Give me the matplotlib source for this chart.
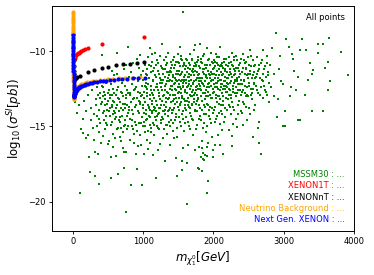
import matplotlib
matplotlib.use('Agg')
import matplotlib.pyplot as plt

# MSSM30 scan points (neutralino mass [GeV], log10 sigma_SI [pb])
mssm_points = [
    (35, -13.4), (60, -14.1), (80, -13.6), (100, -19.4), (120, -15.2), (140, -14.5), (147, -15.45), (160, -13.3), (180, -15.8), (190, -14.0),
    (210, -12.9), (218, -15.56), (228, -17.06), (242, -18.03), (250, -13.8), (260, -14.6), (275, -12.6), (290, -15.1), (299, -15.93), (313, -18.32),
    (318, -16.73), (325, -13.2), (335, -14.3), (345, -12.4), (360, -16.86), (365, -13.9), (370, -18.8), (375, -15.4), (380, -12.8), (388, -14.8),
    (395, -13.5), (398, -16.1),
    (408, -10.26), (412, -12.3), (420, -14.1), (425, -13.0), (432, -15.63), (440, -12.7), (448, -14.6), (455, -13.6), (462, -15.2), (470, -12.1),
    (478, -13.9), (485, -14.9), (490, -11.9), (498, -13.3), (505, -16.2), (512, -12.6), (517, -15.94), (525, -14.3), (530, -13.1), (536, -17.0),
    (540, -12.2), (545, -18.43), (552, -14.7), (560, -13.7), (565, -15.5), (570, -12.5), (578, -14.0), (585, -11.6), (590, -13.4), (598, -15.78),
    (575, -16.4), (555, -11.3),
    (607, -16.95), (610, -12.9), (615, -14.4), (622, -10.15), (628, -13.6), (633, -11.5), (636, -18.15), (640, -15.1), (645, -12.4), (650, -14.0),
    (655, -13.2), (662, -15.7), (668, -11.9), (672, -14.7), (678, -12.7), (685, -13.8), (690, -16.0), (695, -12.1), (700, -14.3), (705, -13.0),
    (710, -15.4), (716, -16.44), (720, -11.2), (726, -17.77), (731, -16.7), (735, -13.5), (740, -12.3), (745, -14.9), (750, -10.9), (754, -20.71),
    (755, -16.67), (760, -13.1), (768, -15.2), (775, -12.6), (780, -14.1), (788, -9.75), (792, -13.7), (798, -11.7),
    (805, -15.9), (810, -12.9), (815, -14.5), (820, -11.4), (826, -13.4), (830, -18.9), (835, -12.2), (840, -15.0), (846, -13.9), (852, -10.8),
    (858, -14.2), (862, -12.6), (868, -16.1), (872, -13.1), (878, -11.8), (885, -14.7), (892, -16.84), (896, -12.4), (900, -13.6), (905, -10.5),
    (910, -15.3), (915, -17.83), (920, -12.0), (925, -14.0), (930, -16.33), (935, -13.3), (940, -11.1), (945, -14.8), (950, -12.8), (954, -10.26),
    (958, -15.6), (962, -13.0), (968, -16.23), (972, -11.6), (978, -18.87), (982, -14.4), (986, -12.3), (990, -13.8), (994, -15.0), (998, -11.3),
    (875, -15.5), (948, -13.5),
    (1005, -12.7), (1011, -16.82), (1015, -14.1), (1020, -10.9), (1025, -13.4), (1030, -15.4), (1035, -12.1), (1040, -14.6), (1045, -11.5), (1050, -13.0),
    (1055, -15.9), (1060, -12.5), (1065, -10.4), (1072, -16.51), (1076, -13.7), (1080, -11.8), (1085, -14.3), (1090, -12.9), (1096, -9.82), (1096, -16.07),
    (1100, -13.2), (1105, -11.0), (1110, -15.1), (1115, -12.3), (1120, -14.0), (1125, -10.7), (1130, -13.5), (1134, -16.93), (1138, -12.0), (1142, -14.8),
    (1146, -11.3), (1150, -13.1), (1155, -15.6), (1160, -12.6), (1165, -10.1), (1170, -14.4), (1177, -18.4), (1180, -11.7), (1185, -13.3), (1190, -12.2),
    (1195, -15.0), (1198, -10.6), (1058, -11.2), (1102, -14.9), (1128, -12.8), (1152, -11.1), (1172, -13.8), (1188, -14.6), (1043, -12.4), (1118, -10.2),
    (1203, -12.4), (1208, -14.2), (1212, -10.8), (1215, -16.56), (1220, -13.0), (1225, -11.5), (1230, -15.2), (1235, -12.1), (1240, -13.8), (1245, -10.3),
    (1250, -14.6), (1255, -11.9), (1262, -9.49), (1265, -13.3), (1270, -12.6), (1275, -15.8), (1280, -11.2), (1285, -14.0), (1290, -12.9), (1295, -10.6),
    (1300, -13.6), (1305, -11.7), (1310, -17.28), (1315, -12.3), (1320, -14.9), (1325, -10.9), (1330, -13.1), (1335, -11.4), (1340, -15.5), (1345, -12.7),
    (1350, -14.3), (1355, -10.1), (1360, -12.0), (1365, -13.9), (1370, -11.6), (1375, -15.0), (1381, -16.23), (1385, -12.5), (1390, -10.7), (1395, -13.4),
    (1398, -11.1), (1228, -12.8), (1248, -11.0), (1268, -14.4), (1288, -11.5), (1308, -13.9), (1328, -12.2), (1348, -11.8), (1368, -14.7), (1388, -12.9),
    (1238, -16.2), (1318, -10.4), (1358, -13.2), (1378, -11.3), (1272, -12.1),
    (1403, -12.6), (1408, -14.1), (1412, -10.9), (1418, -13.3), (1422, -11.6), (1428, -15.3), (1432, -12.2), (1438, -10.4), (1442, -13.8), (1448, -11.8),
    (1452, -14.6), (1458, -12.9), (1462, -10.7), (1466, -17.1), (1470, -13.1), (1475, -11.3), (1480, -15.7), (1485, -18.32), (1490, -12.4), (1495, -10.2),
    (1500, -13.7), (1505, -11.9), (1510, -14.4), (1515, -12.7), (1520, -11.0), (1523, -9.72), (1528, -13.5), (1532, -12.0), (1538, -15.0), (1542, -11.5),
    (1547, -17.33), (1547, -17.88), (1550, -13.0), (1555, -10.6), (1560, -12.3), (1566, -7.4), (1570, -16.44), (1572, -14.0), (1576, -11.7), (1580, -13.2),
    (1585, -10.9), (1590, -12.6), (1595, -14.8), (1598, -11.2), (1415, -12.0), (1435, -11.1), (1455, -12.5), (1472, -14.2), (1492, -11.5), (1512, -13.1),
    (1535, -12.8), (1552, -11.4), (1568, -12.1), (1588, -13.6), (1445, -15.8), (1505, -10.8), (1525, -12.4), (1562, -14.5), (1582, -11.9), (1425, -13.9),
    (1465, -11.9), (1545, -10.3),
    (1603, -12.1), (1608, -13.9), (1612, -10.5), (1618, -17.44), (1618, -20.13), (1622, -12.8), (1628, -11.4), (1632, -14.7), (1638, -12.3), (1641, -16.23),
    (1645, -10.8), (1650, -13.4), (1655, -11.7), (1660, -15.2), (1665, -12.5), (1670, -10.2), (1675, -13.0), (1680, -11.9), (1685, -14.3), (1690, -12.7),
    (1695, -10.6), (1700, -13.6), (1705, -11.2), (1710, -15.6), (1715, -12.2), (1720, -9.9), (1725, -13.2), (1730, -11.6), (1737, -16.56), (1737, -9.6),
    (1740, -14.0), (1745, -12.4), (1750, -10.9), (1755, -13.5), (1760, -11.4), (1765, -14.9), (1770, -12.9), (1775, -10.4), (1780, -13.1), (1784, -17.79),
    (1788, -11.8), (1792, -14.5), (1796, -12.0), (1798, -16.34), (1794, -17.81), (1615, -11.9), (1635, -11.1), (1652, -12.0), (1668, -13.8), (1688, -11.3),
    (1702, -12.6), (1722, -11.0), (1742, -12.8), (1762, -13.3), (1778, -11.6), (1625, -13.3), (1658, -11.5), (1698, -14.5), (1718, -12.9), (1748, -11.9),
    (1768, -10.7), (1786, -12.5),
    (1803, -12.3), (1808, -9.49), (1810, -13.8), (1815, -11.1), (1820, -14.6), (1822, -17.0), (1825, -12.6), (1830, -10.7), (1832, -17.99), (1832, -16.44),
    (1832, -16.0), (1835, -13.3), (1840, -11.8), (1846, -15.1), (1850, -12.2), (1855, -16.78), (1855, -17.17), (1858, -10.3), (1862, -13.6), (1865, -17.22),
    (1868, -11.5), (1872, -14.2), (1878, -12.8), (1879, -16.89), (1882, -10.9), (1888, -13.0), (1892, -11.7), (1898, -15.4), (1903, -15.0), (1903, -16.95),
    (1906, -12.4), (1910, -9.8), (1912, -16.34), (1912, -19.43), (1915, -13.5), (1920, -11.3), (1926, -18.66), (1926, -16.12), (1930, -12.1), (1935, -14.3),
    (1940, -10.5), (1945, -12.9), (1950, -11.6), (1955, -13.7), (1960, -12.0), (1965, -10.1), (1970, -14.8), (1974, -15.72), (1978, -11.9), (1985, -13.1),
    (1990, -12.5), (1997, -16.56), (1997, -17.04), (1998, -10.8), (1818, -12.0), (1845, -11.2), (1870, -12.3), (1895, -11.1), (1918, -12.7), (1942, -13.9),
    (1962, -11.4), (1988, -11.2),
    (2005, -12.2), (2010, -13.9), (2015, -10.6), (2021, -16.23), (2021, -14.68), (2025, -11.8), (2030, -12.9), (2035, -14.5), (2040, -10.2), (2045, -12.4),
    (2050, -11.3), (2055, -13.4), (2060, -12.0), (2068, -15.56), (2070, -10.9), (2075, -13.0), (2080, -11.6), (2085, -14.1), (2090, -12.6), (2093, -16.23),
    (2093, -14.83), (2098, -9.7), (2102, -11.4), (2108, -13.6), (2112, -12.2), (2117, -15.23), (2120, -10.8), (2125, -12.8), (2131, -16.82), (2135, -11.1),
    (2140, -13.3), (2145, -12.0), (2150, -14.7), (2155, -10.5), (2160, -12.5), (2165, -11.7), (2170, -13.8), (2175, -12.3), (2180, -10.9), (2185, -13.1),
    (2190, -11.4), (2195, -12.7), (2012, -11.1), (2038, -12.1), (2062, -13.0), (2088, -11.0), (2115, -11.9), (2138, -12.5), (2162, -11.2), (2188, -12.1),
    (2052, -10.4), (2128, -14.2),
    (2205, -11.8), (2210, -13.2), (2215, -10.4), (2220, -12.5), (2225, -15.23), (2230, -11.2), (2235, -13.7), (2240, -12.1), (2245, -10.7), (2250, -12.9),
    (2255, -11.5), (2259, -15.63), (2259, -16.29), (2262, -13.4), (2268, -10.1), (2272, -12.3), (2278, -11.0), (2282, -14.83), (2285, -12.7), (2290, -11.6),
    (2295, -13.9), (2300, -10.6), (2305, -12.0), (2310, -11.3), (2315, -13.0), (2320, -12.4), (2325, -10.3), (2330, -15.01), (2335, -11.8), (2340, -12.8),
    (2345, -11.1), (2350, -14.2), (2355, -12.2), (2360, -10.9), (2370, -13.3), (2378, -11.5), (2385, -12.6), (2392, -10.5), (2398, -14.0), (2228, -12.9),
    (2302, -11.9), (2365, -11.7),
    (2405, -11.4), (2410, -12.7), (2418, -10.2), (2425, -14.9), (2430, -11.9), (2438, -13.5), (2445, -10.8), (2450, -12.3), (2458, -11.1), (2465, -13.0),
    (2472, -14.6), (2478, -11.6), (2485, -12.9), (2492, -10.4), (2500, -12.1), (2508, -13.8), (2515, -11.3), (2522, -9.9), (2530, -12.5), (2538, -11.0),
    (2545, -13.2), (2552, -11.8), (2560, -10.6), (2567, -15.67), (2572, -12.2), (2580, -11.4), (2588, -13.6), (2595, -10.9), (2440, -12.0), (2498, -11.5),
    (2548, -12.8), (2418, -13.4),
    (2605, -11.7), (2615, -12.6), (2625, -10.4), (2638, -15.12), (2645, -11.2), (2652, -16.07), (2652, -14.68), (2660, -12.9), (2672, -16.82), (2680, -10.8),
    (2690, -11.9), (2700, -13.1), (2712, -9.9), (2722, -12.3), (2735, -11.0), (2748, -12.7), (2760, -10.3), (2772, -11.6), (2785, -13.4), (2795, -12.1),
    (2630, -11.3), (2710, -11.5),
    (2810, -10.9), (2825, -12.4), (2840, -9.8), (2858, -11.5), (2870, -13.0), (2890, -8.8), (2900, -14.4), (2920, -13.2), (2935, -11.2), (2950, -10.3),
    (2965, -12.0), (2990, -12.2), (2990, -15.0), (2994, -14.97),
    (3018, -14.97), (3020, -14.0), (3032, -9.2), (3070, -9.7), (3090, -13.0), (3110, -12.4), (3120, -10.2), (3130, -10.5), (3180, -12.6), (3150, -11.3),
    (3207, -14.6), (3210, -11.7), (3230, -9.95), (3230, -14.6), (3255, -9.2), (3325, -9.93), (3375, -10.8), (3300, -12.9), (3350, -11.9),
    (3400, -11.5), (3410, -13.95), (3420, -11.25), (3490, -9.5), (3490, -10.15), (3555, -13.95), (3560, -9.5), (3590, -11.15),
    (3635, -10.7), (3650, -9.1), (3660, -11.95), (3630, -12.6), (3815, -10.05), (3920, -11.6),
    # denser core of the cloud
    (803, -13.9), (817, -12.8), (833, -14.6), (849, -13.2), (861, -15.2), (877, -12.5), (889, -13.7), (903, -14.9), (917, -13.1), (929, -12.7),
    (943, -14.1), (957, -13.4), (971, -14.8), (983, -12.9), (997, -13.6),
    (305, -14.2), (322, -13.6), (341, -15.0), (356, -12.9), (372, -14.5), (391, -13.1), (417, -13.4), (436, -14.0), (451, -12.9), (467, -14.8),
    (483, -13.5), (501, -12.8), (521, -13.8), (538, -14.9), (557, -12.9), (573, -13.3), (592, -14.5), (613, -13.8), (631, -12.6), (648, -14.6),
    (667, -13.4), (683, -15.1), (702, -12.8), (718, -13.9), (737, -14.6), (752, -12.9), (771, -13.6), (786, -15.0),
    (1003, -11.9), (1013, -13.1), (1023, -12.3), (1033, -14.2), (1047, -12.8), (1053, -11.6), (1063, -13.6), (1074, -12.2), (1083, -10.9), (1093, -13.9),
    (1107, -12.6), (1113, -11.4), (1123, -13.3), (1133, -11.9), (1143, -12.9), (1157, -13.9), (1163, -11.6), (1175, -12.4), (1183, -10.9), (1193, -13.6),
    (1205, -11.3), (1217, -12.6), (1223, -14.1), (1233, -11.8), (1243, -13.2), (1253, -12.4), (1263, -11.1), (1277, -13.0), (1283, -11.9), (1293, -14.0),
    (1303, -12.6), (1313, -11.2), (1323, -13.4), (1333, -12.0), (1343, -10.8), (1353, -12.8), (1363, -11.4), (1373, -13.1), (1383, -11.9), (1393, -12.3),
    (1401, -11.4), (1409, -12.3), (1417, -10.6), (1423, -12.9), (1431, -11.7), (1439, -13.2), (1447, -12.1), (1453, -10.9), (1461, -12.6), (1469, -11.5),
    (1477, -13.4), (1483, -12.0), (1491, -10.7), (1497, -12.8), (1503, -11.3), (1511, -12.2), (1517, -13.6), (1527, -11.6), (1533, -10.5), (1541, -12.5),
    (1549, -11.9), (1557, -13.1), (1563, -11.0), (1571, -12.4), (1579, -10.8), (1587, -12.0), (1593, -13.3), (1599, -11.6),
    (1601, -12.7), (1609, -11.0), (1617, -12.4), (1623, -10.6), (1631, -13.1), (1639, -11.7), (1647, -12.2), (1653, -13.7), (1661, -11.2), (1667, -12.9),
    (1673, -10.9), (1679, -12.3), (1687, -11.6), (1693, -13.0), (1699, -10.5), (1707, -12.1), (1713, -11.4), (1719, -13.4), (1727, -12.0), (1733, -10.8),
    (1741, -11.3), (1749, -12.6), (1757, -11.0), (1763, -12.3), (1771, -11.8), (1777, -13.2), (1783, -10.6), (1791, -12.2), (1797, -11.5),
    (1801, -11.0), (1809, -12.5), (1817, -10.5), (1823, -11.8), (1829, -13.0), (1837, -12.1), (1843, -10.8), (1851, -11.4), (1857, -12.8), (1863, -11.2),
    (1871, -10.2), (1877, -12.0), (1883, -13.2), (1891, -11.6), (1897, -12.6), (1904, -10.9), (1911, -11.8), (1917, -13.0), (1923, -12.2), (1929, -10.6),
    (1937, -11.5), (1943, -12.4), (1949, -10.9), (1957, -11.8), (1963, -13.1), (1969, -12.3), (1977, -10.7), (1983, -11.5), (1991, -12.8), (1999, -11.9),
    (2003, -11.5), (2009, -12.7), (2017, -11.0), (2023, -12.4), (2029, -10.7), (2037, -11.6), (2043, -13.1), (2049, -12.1), (2057, -10.8), (2063, -11.8),
    (2071, -12.5), (2077, -11.2), (2083, -10.4), (2091, -11.9), (2097, -13.2), (2103, -12.4), (2109, -10.9), (2117, -11.6), (2123, -12.2), (2129, -11.0),
    (2137, -13.0), (2143, -11.5), (2149, -12.3), (2157, -10.7), (2163, -12.0), (2169, -11.3), (2177, -12.7), (2183, -10.5), (2189, -11.8), (2197, -12.4),
    (2203, -11.0), (2211, -12.2), (2219, -11.6), (2227, -10.8), (2233, -12.6), (2241, -11.4), (2249, -13.1), (2257, -12.0), (2263, -10.9), (2271, -11.7),
    (2279, -12.5), (2287, -11.2), (2293, -10.4), (2299, -12.1), (2307, -11.5), (2313, -12.8), (2321, -11.1), (2329, -12.0), (2337, -10.6), (2343, -11.9),
    (2353, -12.6), (2363, -11.3), (2373, -12.2), (2381, -10.8), (2389, -11.9), (2397, -12.9),
    (2407, -12.2), (2415, -11.1), (2423, -12.6), (2433, -10.6), (2443, -11.5), (2453, -12.8), (2461, -11.2), (2469, -10.7), (2481, -12.4), (2489, -11.8),
    (2497, -13.0), (2505, -10.9), (2513, -12.3), (2525, -11.5), (2533, -12.9), (2541, -10.3), (2557, -11.6), (2565, -12.5), (2577, -11.0), (2585, -12.1),
    (2597, -11.8),
    (2607, -12.3), (2621, -11.5), (2635, -12.8), (2649, -10.9), (2663, -11.8), (2677, -12.4), (2693, -10.6), (2707, -12.0), (2719, -11.2), (2733, -12.6),
    (2745, -11.7), (2757, -12.9), (2769, -10.8), (2781, -11.4),
    # lower half of the core
    (1008, -14.7), (1027, -15.0), (1038, -13.9), (1057, -14.5), (1068, -15.3), (1087, -13.8), (1098, -14.4), (1117, -15.4), (1127, -14.1), (1147, -13.7),
    (1158, -14.9), (1178, -14.0), (1197, -14.3), (1209, -15.1), (1227, -13.8), (1246, -14.8), (1258, -13.6), (1278, -14.5), (1297, -15.2), (1307, -14.2),
    (1327, -13.7), (1338, -14.9), (1357, -14.0), (1377, -13.8), (1397, -14.6), (1411, -13.9), (1429, -14.8), (1449, -13.5), (1467, -14.4), (1487, -15.1),
    (1507, -13.9), (1521, -14.7), (1539, -13.4), (1559, -14.2), (1577, -15.3), (1597, -13.8), (1613, -14.4), (1633, -13.6), (1649, -15.0), (1671, -14.1),
    (1691, -13.5), (1711, -14.6), (1731, -13.9), (1753, -15.2), (1773, -14.0), (1793, -13.6), (1813, -14.3), (1839, -13.9), (1859, -14.8), (1881, -13.7),
    (1901, -14.2), (1927, -13.6), (1951, -14.5), (1973, -13.8), (1993, -14.1), (2019, -13.7), (2047, -14.3), (2073, -13.5), (2101, -14.0), (2133, -13.6),
    (2159, -14.4), (2187, -13.9), (2217, -13.6), (2247, -14.2), (2283, -13.7), (2317, -14.5), (2357, -13.6), (2411, -14.1), (2463, -13.7), (2519, -14.2),
    (2583, -13.9),
    (433, -12.4), (458, -13.2), (476, -14.3), (507, -14.0), (528, -12.9), (548, -13.6), (568, -14.2), (587, -12.8), (603, -14.1), (626, -15.2),
    (643, -13.1), (663, -14.4), (688, -12.7), (708, -13.5), (727, -15.0), (747, -13.8), (767, -14.3), (783, -12.8),
]
mssm_mass = [p[0] for p in mssm_points]
mssm_sigma = [p[1] for p in mssm_points]

xenon1t_mass = [20, 25, 30, 38, 50, 67, 85, 100, 120, 138, 171, 218, 408, 1011]
xenon1t_sigma = [-10.5, -10.42, -10.35, -10.26, -10.2, -10.15, -10.09, -10.05, -9.99, -9.93, -9.85, -9.78, -9.49, -9.09]

xenonnt_mass = [5, 5.5, 6, 6.5, 7, 8, 9, 10, 12, 15, 20, 30, 45, 61, 100, 209, 303, 408, 503, 612, 707, 811, 906, 1011]
xenonnt_sigma = [-8.85, -9.3, -9.8, -10.2, -10.6, -11.0, -11.3, -11.5, -11.7, -11.85, -11.9, -11.85, -11.8, -11.74,
                 -11.66, -11.39, -11.24, -11.15, -11.04, -10.95, -10.86, -10.82, -10.77, -10.73]

nu_mass = [3, 3.1, 3.2, 3.3, 3.4, 3.5, 3.6, 3.7, 3.8, 3.9, 4, 4.1, 4.2, 4.3, 4.4, 4.5, 4.6, 4.7, 4.8, 4.9, 5, 5.15, 5.3,
           5.45, 5.6, 5.8, 6, 6.25, 6.5, 6.75, 7, 7.5, 8, 9, 10, 11, 12, 14, 16, 18, 20,
           23, 26, 30, 35, 40, 50, 60, 70, 85, 100, 120, 140, 170, 200, 240, 280, 330, 380, 440, 500, 570, 650, 740, 840, 950]
nu_sigma = [-7.4, -7.55, -7.7, -7.85, -8.0, -8.15, -8.3, -8.45, -8.6, -8.75, -8.9, -9.05, -9.2, -9.35, -9.5, -9.65,
            -9.8, -9.95, -10.1, -10.25, -10.4, -10.6, -10.8, -11.0, -11.2, -11.4, -11.6, -11.8, -12.0, -12.2, -12.35,
            -12.6, -12.8, -13.0, -13.1, -13.15, -13.15, -13.1, -13.0, -12.92, -12.85, -12.78, -12.72, -12.66, -12.6,
            -12.55, -12.47, -12.41, -12.36, -12.3, -12.25, -12.2, -12.16, -12.11, -12.07, -12.02, -11.98, -11.95,
            -11.92, -11.89, -11.86, -11.83, -11.8, -11.78, -11.76, -11.74]

nextgen_mass = [5, 5.1, 5.2, 5.3, 5.4, 5.5, 5.6, 5.7, 5.8, 5.9, 6, 6.15, 6.3, 6.45, 6.6, 6.8, 7, 7.25, 7.5, 7.75, 8, 8.5,
                9, 10, 11, 12, 14, 16, 18, 20, 23, 26, 30, 35, 40, 45,
                50, 60, 70, 80, 90, 100, 115, 130, 150, 170, 190, 215, 240, 270, 300, 340, 380, 420, 470, 520, 580, 640,
                700, 770, 850, 930, 1025]
nextgen_sigma = [-8.95, -9.12, -9.3, -9.47, -9.65, -9.82, -10.0, -10.17, -10.35, -10.52, -10.7, -10.9, -11.1, -11.3,
                 -11.5, -11.7, -11.9, -12.08, -12.25, -12.38, -12.5, -12.7, -12.85, -12.95,
                 -13.0, -13.02, -13.0, -12.97, -12.93, -12.9, -12.85, -12.8, -12.75, -12.7, -12.66, -12.62, -12.58,
                 -12.52, -12.47, -12.43, -12.4, -12.37, -12.33, -12.3, -12.26, -12.22, -12.19, -12.16, -12.13, -12.1,
                 -12.07, -12.04, -12.01, -11.98, -11.95, -11.93, -11.9, -11.88, -11.86, -11.84, -11.81, -11.79, -11.77]

labels = ['MSSM30 : ...', 'XENON1T : ...', 'XENONnT : ...', 'Neutrino Background : ...', 'Next Gen. XENON : ...']
colors = ['green', 'red', 'black', 'orange', 'blue']

fig = plt.figure(figsize=(3.74, 2.75), dpi=100)
ax = fig.add_axes([0.139, 0.16, 0.807, 0.818])

ax.scatter(mssm_mass, mssm_sigma, s=2.2, c='green', marker='s', linewidths=0)
ax.scatter(xenon1t_mass, xenon1t_sigma, s=9, c='red', linewidths=0)
ax.scatter(xenonnt_mass, xenonnt_sigma, s=9, c='black', linewidths=0)
ax.scatter(nu_mass, nu_sigma, s=9, c='orange', linewidths=0)
ax.scatter(nextgen_mass, nextgen_sigma, s=9, c='blue', linewidths=0)

ax.set_xlim(-300, 4000)
ax.set_ylim(-21.95, -7.0)
ax.set_xticks([0, 1000, 2000, 3000, 4000])
ax.set_yticks([-20, -15, -10])
ax.tick_params(labelsize=6, length=2.5, width=0.6, pad=2)
for sp in ax.spines.values():
    sp.set_linewidth(0.7)

ax.set_xlabel(r'$m_{\chi_1^0}[GeV]$', fontsize=8.5, labelpad=2)
ax.set_ylabel(r'$\log_{10}(\sigma^{SI}[pb])$', fontsize=8.5, labelpad=2)

ax.text(0.97, 0.95, 'All points', transform=ax.transAxes, ha='right', va='center', fontsize=6)
for i, (lab, col) in enumerate(zip(labels, colors)):
    ax.text(0.97, 0.252 - i * 0.0505, lab, transform=ax.transAxes, ha='right', va='center',
            fontsize=6, color=col)

fig.savefig('out.png', dpi=100)
